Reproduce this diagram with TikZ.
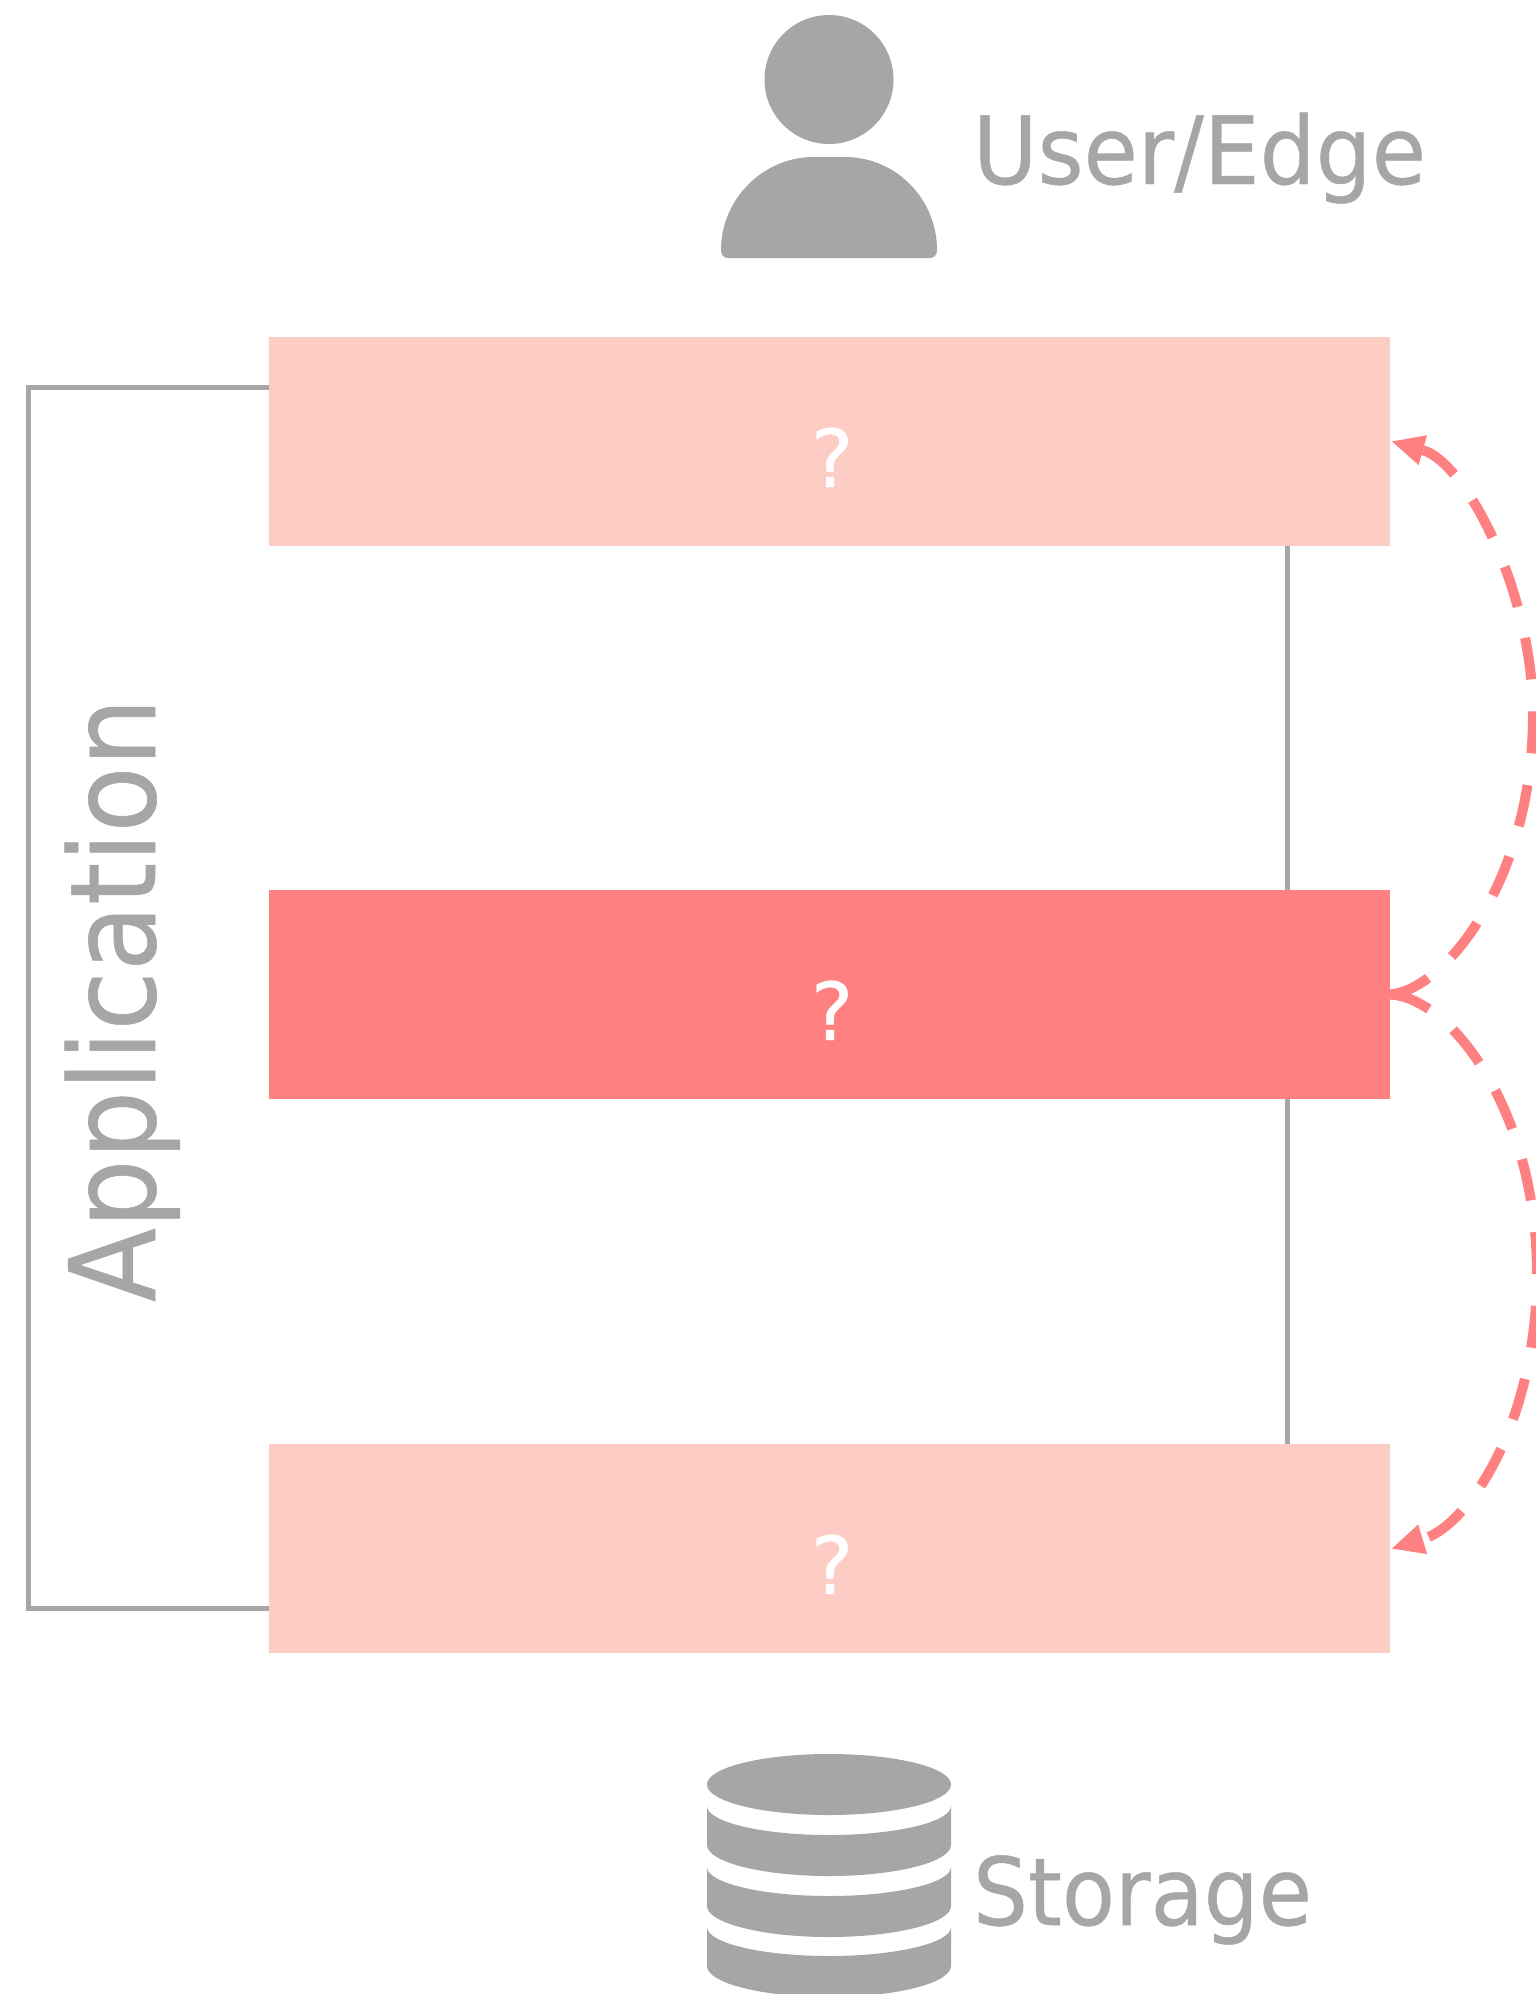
\documentclass[tikz,border=0pt]{standalone}
\usepackage{fontspec}
\setmainfont{DejaVu Sans}
\newfontfamily\labelfont[FakeBold=0.5]{DejaVu Sans}
\usetikzlibrary{arrows.meta}
\definecolor{icongray}{HTML}{A6A6A6}
\definecolor{strongpink}{HTML}{FF8080}
\definecolor{lightpink}{HTML}{FDCCC4}
\tikzset{
  layerbox/.style={rectangle,inner sep=0pt,outer sep=0pt,minimum width=1121pt,minimum height=209pt,text=white,font=\labelfont\fontsize{80}{90}\selectfont},
  graylabel/.style={inner sep=0pt,outer sep=0pt,text=icongray,font=\labelfont},
  grayline/.style={draw=icongray,line width=5pt,line join=miter},
  flow/.style={draw=strongpink,line width=10pt,dash pattern=on 42pt off 32pt,-{Triangle[length=32pt,width=31pt,line width=0pt]}},
  icon/.style={fill=icongray,draw=none}
}
\newcommand{\qmark}{\hspace*{5pt}\raisebox{-45.5pt}[0pt][0pt]{?}}
\begin{document}
\begin{tikzpicture}[x=1pt,y=-1pt]
\useasboundingbox (0,0) rectangle (1536,1994);
\clip (0,0) rectangle (1536,1994);
\fill[white] (0,0) rectangle (1536,1994);
% boxes
\node[layerbox,fill=lightpink] (b1) at (829.5,441.5) {\qmark};
\node[layerbox,fill=strongpink] (b2) at (829.5,994.5) {\qmark};
\node[layerbox,fill=lightpink] (b3) at (829.5,1548.5) {\qmark};
% gray connectors
\draw[grayline] ([yshift=54.5pt]b1.west) -| (28.5,1608) -- ([yshift=-59.5pt]b3.west);
\draw[grayline] ([xshift=457.5pt]b1.south) -- ([xshift=457.5pt]b2.north);
\draw[grayline] ([xshift=457.5pt]b2.south) -- ([xshift=457.5pt]b3.north);
% dashed arrows
\draw[flow] (b2.east) .. controls (1445,990) and (1533,880) .. (1533,715)
  .. controls (1533,590) and (1465,462) .. ([xshift=2pt]b1.east);
\draw[flow] (b2.east) .. controls (1450,997) and (1537,1110) .. (1537,1274)
  .. controls (1537,1420) and (1470,1525) .. ([xshift=2pt]b3.east);
% user icon
\fill[icon] (829,79.5) circle[radius=64.5pt];
\fill[icon] (721,250) .. controls (721,199) and (763,157) .. (814,157)
  -- (845,157) .. controls (896,157) and (937,199) .. (937,250)
  .. controls (937,255) and (934,258) .. (930,258) -- (728,258)
  .. controls (724,258) and (721,255) .. (721,250) -- cycle;
% storage icon
\fill[icon] (829,1784.5) ellipse[x radius=122pt,y radius=30.5pt];
\foreach \t in {1806,1867,1927}{
  \fill[icon] (707,\t) .. controls (707,\t+16) and (762,\t+29) .. (829,\t+29)
    .. controls (896,\t+29) and (951,\t+16) .. (951,\t)
    -- (951,\t+39) .. controls (951,\t+56) and (896,\t+70) .. (829,\t+70)
    .. controls (762,\t+70) and (707,\t+56) .. (707,\t+39) -- cycle;
}
% labels
\node[graylabel,anchor=base west] (user) at (973,184) {\fontsize{94}{105}\selectfont\resizebox{453pt}{\height}{User/Edge}};
\node[graylabel,anchor=base west] (storage) at (973,1925) {\fontsize{94}{105}\selectfont\resizebox{339pt}{\height}{Storage}};
\node[graylabel,anchor=base west,rotate=90] (app) at (155,1302) {\fontsize{119}{130}\selectfont\resizebox{604pt}{\height}{Application}};
\end{tikzpicture}
\end{document}
